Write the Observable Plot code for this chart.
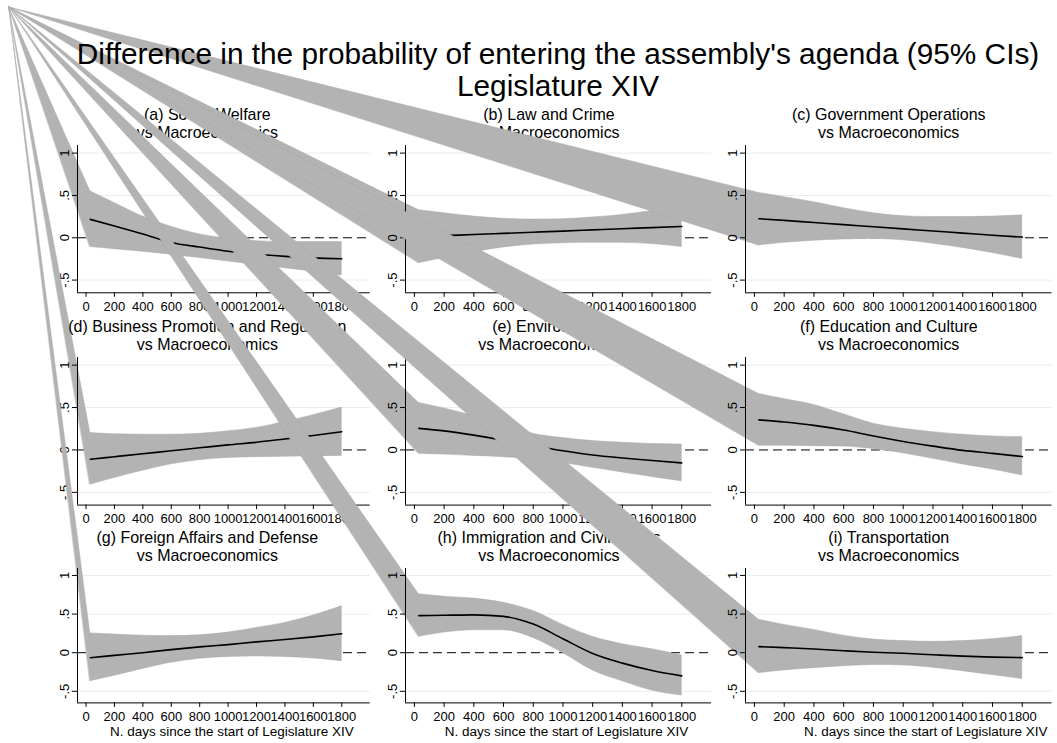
<!DOCTYPE html>
<html>
<head>
<meta charset="utf-8">
<script src="https://cdn.jsdelivr.net/npm/d3@7"></script>
<script src="https://cdn.jsdelivr.net/npm/@observablehq/plot@0.6"></script>
<style>
  body { margin: 0; background: #fff; }
  #fig { position: relative; width: 1057px; height: 743px; overflow: hidden; background: #fff;
         font-family: "Liberation Sans", Arial, sans-serif; }
  #fig svg { position: absolute; overflow: visible; }
  #title { position: absolute; left: 0; top: 38px; width: 1116px; text-align: center;
           font-size: 29.8px; line-height: 32px; color: #000; z-index: 20; pointer-events: none; }
</style>
</head>
<body>
<div id="fig">
  <div id="title">Difference in the probability of entering the assembly's agenda (95% CIs)<br>Legislature XIV</div>
</div>
<script>
// ---------------- data ----------------
const days = [30, 200, 400, 600, 800, 1000, 1200, 1400, 1600, 1800];
const xTicks = [0, 200, 400, 600, 800, 1000, 1200, 1400, 1600, 1800];
const yTicks = [-0.5, 0, 0.5, 1];
const yTickLabels = ["-.5", "0", ".5", "1"];
const gridValues = [-0.5, 0.5, 1];
const xDomain = [-60, 2000];
const yDomain = [-0.65, 1.09];
const xLabel = "N. days since the start of Legislature XIV";
const subTitle = "vs Macroeconomics";
const panelNames = [
  "(a) Social Welfare", "(b) Law and Crime", "(c) Government Operations",
  "(d) Business Promotion and Regulation", "(e) Environment", "(f) Education and Culture",
  "(g) Foreign Affairs and Defense", "(h) Immigration and Civil Rights", "(i) Transportation"
];

const est_a = [0.217, 0.14, 0.045, -0.055, -0.11, -0.16, -0.195, -0.22, -0.238, -0.248];
const hi_a  = [0.55, 0.41, 0.25, 0.13, 0.04, -0.01, -0.04, -0.05, -0.05, -0.05];
const lo_a  = [-0.11, -0.135, -0.165, -0.2, -0.24, -0.28, -0.32, -0.36, -0.40, -0.445];

const est_b = [0.013, 0.025, 0.038, 0.052, 0.066, 0.079, 0.093, 0.107, 0.12, 0.134];
const hi_b  = [0.325, 0.29, 0.25, 0.225, 0.215, 0.22, 0.24, 0.27, 0.315, 0.375];
const lo_b  = [-0.30, -0.24, -0.17, -0.115, -0.08, -0.065, -0.06, -0.06, -0.075, -0.11];

const est_c = [0.225, 0.205, 0.18, 0.155, 0.13, 0.105, 0.08, 0.055, 0.03, 0.008];
const hi_c  = [0.53, 0.48, 0.42, 0.35, 0.29, 0.255, 0.245, 0.245, 0.25, 0.265];
const lo_c  = [-0.09, -0.06, -0.035, -0.02, -0.015, -0.03, -0.07, -0.12, -0.18, -0.25];

const est_d = [-0.11, -0.08, -0.045, -0.01, 0.025, 0.06, 0.09, 0.13, 0.17, 0.215];
const hi_d  = [0.20, 0.185, 0.18, 0.18, 0.19, 0.22, 0.26, 0.33, 0.41, 0.50];
const lo_d  = [-0.41, -0.33, -0.245, -0.17, -0.12, -0.095, -0.085, -0.08, -0.075, -0.07];

const est_e = [0.255, 0.225, 0.175, 0.115, 0.05, -0.01, -0.06, -0.095, -0.125, -0.153];
const hi_e  = [0.555, 0.49, 0.40, 0.30, 0.19, 0.14, 0.105, 0.085, 0.07, 0.063];
const lo_e  = [-0.045, -0.055, -0.07, -0.085, -0.11, -0.155, -0.21, -0.265, -0.32, -0.37];

const est_f = [0.355, 0.33, 0.29, 0.235, 0.165, 0.10, 0.045, -0.005, -0.04, -0.078];
const hi_f  = [0.66, 0.60, 0.53, 0.42, 0.31, 0.25, 0.21, 0.18, 0.16, 0.15];
const lo_f  = [0.05, 0.05, 0.045, 0.04, 0.01, -0.04, -0.105, -0.17, -0.23, -0.30];

const est_g = [-0.065, -0.035, 0.0, 0.04, 0.075, 0.105, 0.14, 0.17, 0.205, 0.245];
const hi_g  = [0.25, 0.235, 0.22, 0.215, 0.225, 0.26, 0.32, 0.385, 0.48, 0.60];
const lo_g  = [-0.37, -0.30, -0.21, -0.13, -0.08, -0.055, -0.048, -0.055, -0.075, -0.11];

const est_h = [0.48, 0.485, 0.49, 0.47, 0.37, 0.18, -0.01, -0.135, -0.23, -0.30];
const hi_h  = [0.755, 0.725, 0.70, 0.645, 0.54, 0.36, 0.205, 0.11, 0.045, -0.035];
const lo_h  = [0.205, 0.26, 0.29, 0.29, 0.19, -0.005, -0.23, -0.37, -0.49, -0.555];

const est_i = [0.078, 0.065, 0.048, 0.025, 0.005, -0.008, -0.027, -0.045, -0.057, -0.064];
const hi_i  = [0.425, 0.36, 0.295, 0.22, 0.17, 0.15, 0.14, 0.15, 0.175, 0.215];
const lo_i  = [-0.265, -0.23, -0.20, -0.175, -0.16, -0.165, -0.195, -0.24, -0.29, -0.34];

const series = [
  [est_a, lo_a, hi_a], [est_b, lo_b, hi_b], [est_c, lo_c, hi_c],
  [est_d, lo_d, hi_d], [est_e, lo_e, hi_e], [est_f, lo_f, hi_f],
  [est_g, lo_g, hi_g], [est_h, lo_h, hi_h], [est_i, lo_i, hi_i]
];

// ---------------- layout ----------------
const colX0 = [77.3, 405, 745], colX1 = [370, 711, 1051.5];
const rowY0 = [145, 356.7, 568.3], rowY1 = [292.3, 504.3, 702.7];
const titleDx = [-16.5, -9.5, -10];
const xLabelDx = [8, 8, 27];
const corner = [9, 7]; // figure origin used by the band polygons

function hasFont(name) {
  const ctx = document.createElement("canvas").getContext("2d");
  const s = "0123456789 Macro";
  ctx.font = "20px monospace"; const a = ctx.measureText(s).width;
  ctx.font = `20px "${name}", monospace`; const b = ctx.measureText(s).width;
  return Math.abs(a - b) > 0.5;
}
const narrow = hasFont("Liberation Sans Narrow");
const tickFont = narrow ? '"Liberation Sans Narrow", "Liberation Sans", Arial, sans-serif' : '"Liberation Sans", Arial, sans-serif';
const tickSize = narrow ? 16 : 13;

const fig = document.getElementById("fig");
const titleEl = document.getElementById("title");

for (let i = 0; i < 9; i++) {
  const r = Math.floor(i / 3), c = i % 3;
  const mL = 50, mR = 6, mT = 50, mB = r === 2 ? 45 : 30;
  const pw = colX1[c] - colX0[c], ph = rowY1[r] - rowY0[r];
  const left = colX0[c] - mL, top = rowY0[r] - mT;
  const [est, lo, hi] = series[i];
  const data = days.map((d, k) => ({day: d, est: est[k], lo: lo[k], hi: hi[k]}));
  const marks = [
    Plot.ruleY(gridValues, {stroke: "#e4eef0", strokeWidth: 1}),
    Plot.ruleY([0], {stroke: "#000", strokeWidth: 1, strokeDasharray: "9,5"}),
    Plot.areaY(data, {x: "day", y1: "lo", y2: "hi", fill: "#b3b3b3", stroke: "#a8a8a8", strokeWidth: 0.5, curve: "monotone-x"}),
    Plot.lineY(data, {x: "day", y: "est", stroke: "#000", strokeWidth: 1.6, curve: "monotone-x"}),
    Plot.ruleX([xDomain[0]], {stroke: "#000", strokeWidth: 1}),
    Plot.ruleY([yDomain[0]], {stroke: "#000", strokeWidth: 1}),
    Plot.axisX({ticks: xTicks, tickSize: 4.5, tickPadding: 4, tickFormat: d => String(d), label: null,
                fontSize: tickSize, fontFamily: tickFont}),
    Plot.axisY({ticks: yTicks, tickSize: 5, tickFormat: () => "", label: null}),
    Plot.text(yTicks, {frameAnchor: "left", y: d => d, text: d => yTickLabels[yTicks.indexOf(d)],
                       rotate: -90, dx: -8.5, lineAnchor: "bottom", textAnchor: "middle",
                       fontSize: tickSize, fontFamily: tickFont}),
    Plot.text([panelNames[i] + "\n" + subTitle], {frameAnchor: "top", text: d => d, dx: titleDx[c], dy: -7.5,
                       lineAnchor: "bottom", lineHeight: 1.12, fontSize: 16,
                       fontFamily: '"Liberation Sans", Arial, sans-serif'})
  ];
  if (r === 2) {
    marks.push(Plot.text([xLabel], {frameAnchor: "bottom", text: d => d, dx: xLabelDx[c], dy: 24,
                       lineAnchor: "top", fontSize: 13.5, fontFamily: '"Liberation Sans", Arial, sans-serif'}));
  }
  const svg = Plot.plot({
    width: pw + mL + mR, height: ph + mT + mB,
    marginLeft: mL, marginRight: mR, marginTop: mT, marginBottom: mB,
    x: {domain: xDomain, label: null},
    y: {domain: yDomain, label: null},
    style: {background: "transparent", overflow: "visible", color: "#000",
            fontFamily: '"Liberation Sans", Arial, sans-serif'},
    marks
  });
  svg.style.left = left + "px";
  svg.style.top = top + "px";
  // Band polygon anchored at the figure origin (as in the original export)
  const path = svg.querySelector('g[aria-label="area"] path');
  if (path) {
    const d = path.getAttribute("d");
    if (d && d[0] === "M") path.setAttribute("d", `M${corner[0] - left},${corner[1] - top}L${d.slice(1)}`);
  }
  fig.insertBefore(svg, titleEl);
}
</script>
</body>
</html>
